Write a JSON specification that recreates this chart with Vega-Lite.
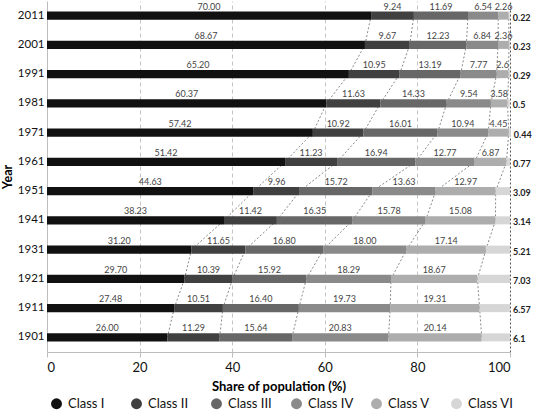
{
  "$schema": "https://vega.github.io/schema/vega-lite/v6.json",
  "autosize": "none",
  "width": 463,
  "height": 351,
  "padding": {"left": 47, "top": 1, "right": 24, "bottom": 61},
  "background": "white",
  "config": {
    "font": "Lato",
    "view": {"stroke": null},
    "axis": {"labelFont": "Lato", "titleFont": "Lato"},
    "legend": {"labelFont": "Lato"}
  },
  "data": {
    "values": [
      {"year": 2011, "cls": "Class I", "value": 70.00, "label": "70.00"},
      {"year": 2011, "cls": "Class II", "value": 9.24, "label": "9.24"},
      {"year": 2011, "cls": "Class III", "value": 11.69, "label": "11.69"},
      {"year": 2011, "cls": "Class IV", "value": 6.54, "label": "6.54"},
      {"year": 2011, "cls": "Class V", "value": 2.26, "label": "2.26"},
      {"year": 2011, "cls": "Class VI", "value": 0.22, "label": "0.22"},
      {"year": 2001, "cls": "Class I", "value": 68.67, "label": "68.67"},
      {"year": 2001, "cls": "Class II", "value": 9.67, "label": "9.67"},
      {"year": 2001, "cls": "Class III", "value": 12.23, "label": "12.23"},
      {"year": 2001, "cls": "Class IV", "value": 6.84, "label": "6.84"},
      {"year": 2001, "cls": "Class V", "value": 2.36, "label": "2.36"},
      {"year": 2001, "cls": "Class VI", "value": 0.23, "label": "0.23"},
      {"year": 1991, "cls": "Class I", "value": 65.20, "label": "65.20"},
      {"year": 1991, "cls": "Class II", "value": 10.95, "label": "10.95"},
      {"year": 1991, "cls": "Class III", "value": 13.19, "label": "13.19"},
      {"year": 1991, "cls": "Class IV", "value": 7.77, "label": "7.77"},
      {"year": 1991, "cls": "Class V", "value": 2.6, "label": "2.6"},
      {"year": 1991, "cls": "Class VI", "value": 0.29, "label": "0.29"},
      {"year": 1981, "cls": "Class I", "value": 60.37, "label": "60.37"},
      {"year": 1981, "cls": "Class II", "value": 11.63, "label": "11.63"},
      {"year": 1981, "cls": "Class III", "value": 14.33, "label": "14.33"},
      {"year": 1981, "cls": "Class IV", "value": 9.54, "label": "9.54"},
      {"year": 1981, "cls": "Class V", "value": 3.58, "label": "3.58"},
      {"year": 1981, "cls": "Class VI", "value": 0.5, "label": "0.5"},
      {"year": 1971, "cls": "Class I", "value": 57.42, "label": "57.42"},
      {"year": 1971, "cls": "Class II", "value": 10.92, "label": "10.92"},
      {"year": 1971, "cls": "Class III", "value": 16.01, "label": "16.01"},
      {"year": 1971, "cls": "Class IV", "value": 10.94, "label": "10.94"},
      {"year": 1971, "cls": "Class V", "value": 4.45, "label": "4.45"},
      {"year": 1971, "cls": "Class VI", "value": 0.44, "label": "0.44"},
      {"year": 1961, "cls": "Class I", "value": 51.42, "label": "51.42"},
      {"year": 1961, "cls": "Class II", "value": 11.23, "label": "11.23"},
      {"year": 1961, "cls": "Class III", "value": 16.94, "label": "16.94"},
      {"year": 1961, "cls": "Class IV", "value": 12.77, "label": "12.77"},
      {"year": 1961, "cls": "Class V", "value": 6.87, "label": "6.87"},
      {"year": 1961, "cls": "Class VI", "value": 0.77, "label": "0.77"},
      {"year": 1951, "cls": "Class I", "value": 44.63, "label": "44.63"},
      {"year": 1951, "cls": "Class II", "value": 9.96, "label": "9.96"},
      {"year": 1951, "cls": "Class III", "value": 15.72, "label": "15.72"},
      {"year": 1951, "cls": "Class IV", "value": 13.63, "label": "13.63"},
      {"year": 1951, "cls": "Class V", "value": 12.97, "label": "12.97"},
      {"year": 1951, "cls": "Class VI", "value": 3.09, "label": "3.09"},
      {"year": 1941, "cls": "Class I", "value": 38.23, "label": "38.23"},
      {"year": 1941, "cls": "Class II", "value": 11.42, "label": "11.42"},
      {"year": 1941, "cls": "Class III", "value": 16.35, "label": "16.35"},
      {"year": 1941, "cls": "Class IV", "value": 15.78, "label": "15.78"},
      {"year": 1941, "cls": "Class V", "value": 15.08, "label": "15.08"},
      {"year": 1941, "cls": "Class VI", "value": 3.14, "label": "3.14"},
      {"year": 1931, "cls": "Class I", "value": 31.20, "label": "31.20"},
      {"year": 1931, "cls": "Class II", "value": 11.65, "label": "11.65"},
      {"year": 1931, "cls": "Class III", "value": 16.80, "label": "16.80"},
      {"year": 1931, "cls": "Class IV", "value": 18.00, "label": "18.00"},
      {"year": 1931, "cls": "Class V", "value": 17.14, "label": "17.14"},
      {"year": 1931, "cls": "Class VI", "value": 5.21, "label": "5.21"},
      {"year": 1921, "cls": "Class I", "value": 29.70, "label": "29.70"},
      {"year": 1921, "cls": "Class II", "value": 10.39, "label": "10.39"},
      {"year": 1921, "cls": "Class III", "value": 15.92, "label": "15.92"},
      {"year": 1921, "cls": "Class IV", "value": 18.29, "label": "18.29"},
      {"year": 1921, "cls": "Class V", "value": 18.67, "label": "18.67"},
      {"year": 1921, "cls": "Class VI", "value": 7.03, "label": "7.03"},
      {"year": 1911, "cls": "Class I", "value": 27.48, "label": "27.48"},
      {"year": 1911, "cls": "Class II", "value": 10.51, "label": "10.51"},
      {"year": 1911, "cls": "Class III", "value": 16.40, "label": "16.40"},
      {"year": 1911, "cls": "Class IV", "value": 19.73, "label": "19.73"},
      {"year": 1911, "cls": "Class V", "value": 19.31, "label": "19.31"},
      {"year": 1911, "cls": "Class VI", "value": 6.57, "label": "6.57"},
      {"year": 1901, "cls": "Class I", "value": 26.00, "label": "26.00"},
      {"year": 1901, "cls": "Class II", "value": 11.29, "label": "11.29"},
      {"year": 1901, "cls": "Class III", "value": 15.64, "label": "15.64"},
      {"year": 1901, "cls": "Class IV", "value": 20.83, "label": "20.83"},
      {"year": 1901, "cls": "Class V", "value": 20.14, "label": "20.14"},
      {"year": 1901, "cls": "Class VI", "value": 6.1, "label": "6.1"}
    ]
  },
  "transform": [
    {"window": [{"op": "sum", "field": "value", "as": "cum"}], "groupby": ["year"], "sort": [{"field": "cls", "order": "ascending"}], "frame": [null, 0]},
    {"calculate": "datum.cum - datum.value", "as": "start"},
    {"calculate": "(datum.cum + datum.start) / 2", "as": "mid"}
  ],
  "encoding": {
    "y": {
      "field": "year", "type": "ordinal", "sort": "descending",
      "scale": {"paddingInner": 0.725, "paddingOuter": 0.3625},
      "axis": {
        "title": "Year", "titleFontSize": 12.5, "titleFontWeight": "bold", "titleColor": "#000",
        "titlePadding": 3,
        "labelFontSize": 11.5, "labelColor": "#111", "labelPadding": 3,
        "ticks": false, "domainColor": "#bdbdbd", "domainWidth": 1
      }
    }
  },
  "layer": [
    {
      "transform": [
        {"filter": "datum.cls != 'Class VI'"},
        {"window": [{"op": "lead", "field": "cum", "as": "nextCum"}, {"op": "lead", "field": "year", "as": "nextYear"}], "groupby": ["cls"], "sort": [{"field": "year", "order": "ascending"}]},
        {"filter": "isValid(datum.nextYear)"}
      ],
      "mark": {"type": "rule", "color": "#555", "strokeWidth": 0.7, "strokeDash": [2, 2]},
      "encoding": {
        "x": {
          "field": "cum", "type": "quantitative",
          "scale": {"domain": [0, 100], "nice": false},
          "axis": {
            "values": [0, 20, 40, 60, 80, 100],
            "title": "Share of population (%)", "titleFontSize": 13, "titleFontWeight": "bold", "titleColor": "#000",
            "titlePadding": 6,
            "labelFontSize": 13, "labelColor": "#111", "labelPadding": 4,
            "tickSize": 5, "tickColor": "#bdbdbd", "domainColor": "#bdbdbd",
            "grid": true,
            "gridColor": {"condition": {"test": "datum.value == 100", "value": "#555"}, "value": "#c4c4c4"},
            "gridDash": {"condition": {"test": "datum.value == 100", "value": [2, 2]}, "value": [4, 3]},
            "gridOpacity": {"condition": {"test": "datum.value == 0", "value": 0}, "value": 1}
          }
        },
        "x2": {"field": "nextCum"},
        "y2": {"field": "nextYear"}
      }
    },
    {
      "mark": {"type": "bar"},
      "encoding": {
        "x": {"field": "start", "type": "quantitative"},
        "x2": {"field": "cum"},
        "color": {
          "field": "cls", "type": "nominal",
          "scale": {
            "domain": ["Class I", "Class II", "Class III", "Class IV", "Class V", "Class VI"],
            "range": ["#111111", "#404040", "#676767", "#8a8a8a", "#adadad", "#d6d6d6"]
          },
          "legend": {
            "title": null, "orient": "none", "legendX": 3, "legendY": 396,
            "direction": "horizontal", "columns": 6, "gridAlign": "all",
            "symbolType": "circle", "symbolSize": 120, "symbolStrokeWidth": 0,
            "labelFontSize": 13, "labelColor": "#111", "labelOffset": 5, "columnPadding": 16
          }
        }
      }
    },
    {
      "transform": [{"filter": "datum.cls != 'Class VI'"}],
      "mark": {"type": "text", "dy": -9, "fontSize": 9, "color": "#444"},
      "encoding": {
        "x": {"field": "mid", "type": "quantitative"},
        "text": {"field": "label"}
      }
    },
    {
      "transform": [{"filter": "datum.cls == 'Class VI'"}],
      "mark": {"type": "text", "align": "left", "dx": 3, "dy": 2, "fontSize": 9, "fontWeight": "bold", "color": "#222"},
      "encoding": {
        "x": {"field": "cum", "type": "quantitative"},
        "text": {"field": "label"}
      }
    }
  ]
}
